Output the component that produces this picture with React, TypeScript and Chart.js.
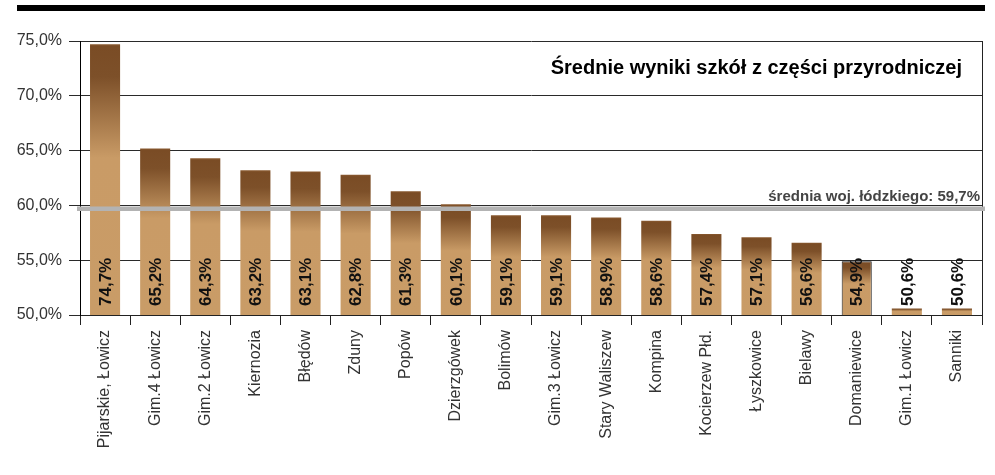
import React, { useEffect, useRef } from "react";
import { Chart, registerables } from "chart.js";

Chart.register(...registerables);

const categories = [
  "Pijarskie, Łowicz",
  "Gim.4 Łowicz",
  "Gim.2 Łowicz",
  "Kiernozia",
  "Błędów",
  "Zduny",
  "Popów",
  "Dzierzgówek",
  "Bolimów",
  "Gim.3 Łowicz",
  "Stary Waliszew",
  "Kompina",
  "Kocierzew Płd.",
  "Łyszkowice",
  "Bielawy",
  "Domaniewice",
  "Gim.1 Łowicz",
  "Sanniki",
];
const values = [74.7, 65.2, 64.3, 63.2, 63.1, 62.8, 61.3, 60.1, 59.1, 59.1, 58.9, 58.6, 57.4, 57.1, 56.6, 54.9, 50.6, 50.6];
const highlighted = ["Domaniewice"];
const averageValue = 59.7;
const averageLabel = "średnia woj. łódzkiego: 59,7%";
const title = "Średnie wyniki szkół z części przyrodniczej";
const yMin = 50;
const yMax = 75;
const yStep = 5;

const FONT = "'Liberation Sans', Arial, Helvetica, sans-serif";
const fmt = (v: number) => v.toFixed(1).replace(".", ",") + "%";

export default function App() {
  const ref = useRef<HTMLCanvasElement | null>(null);

  useEffect(() => {
    const canvas = ref.current;
    if (!canvas) return;

    const decor = {
      id: "decor",
      beforeDraw(chart: any) {
        const ctx = chart.ctx;
        ctx.save();
        ctx.fillStyle = "#000";
        ctx.fillRect(17, 5, 968, 6);
        ctx.restore();
      },
      afterDatasetsDraw(chart: any) {
        const ctx = chart.ctx;
        const area = chart.chartArea;
        const y = chart.scales.y;
        const meta = chart.getDatasetMeta(0);
        ctx.save();
        // right border
        ctx.strokeStyle = "#222";
        ctx.lineWidth = 1;
        ctx.beginPath();
        ctx.moveTo(Math.round(area.right) + 0.5, area.top);
        ctx.lineTo(Math.round(area.right) + 0.5, area.bottom);
        ctx.stroke();
        // average line
        const ay = y.getPixelForValue(averageValue);
        ctx.strokeStyle = "#b3b3b3";
        ctx.lineWidth = 4.5;
        ctx.beginPath();
        ctx.moveTo(area.left - 3, ay);
        ctx.lineTo(area.right + 3, ay);
        ctx.stroke();
        ctx.fillStyle = "#444";
        ctx.font = `bold 15px ${FONT}`;
        ctx.textAlign = "right";
        ctx.textBaseline = "alphabetic";
        ctx.fillText(averageLabel, area.right - 2, ay - 8);
        // title
        ctx.fillStyle = "#000";
        ctx.font = `bold 20px ${FONT}`;
        ctx.textAlign = "right";
        ctx.textBaseline = "middle";
        ctx.fillText(title, 962, 68);
        // value labels
        ctx.fillStyle = "#111";
        ctx.font = `bold 17px ${FONT}`;
        meta.data.forEach((bar: any, i: number) => {
          ctx.save();
          ctx.translate(bar.x, area.bottom - 9);
          ctx.rotate(-Math.PI / 2);
          ctx.textAlign = "left";
          ctx.textBaseline = "middle";
          ctx.fillText(fmt(values[i]), 0, 1);
          ctx.restore();
        });
        ctx.restore();
      },
    };

    const chart = new Chart(canvas, {
      type: "bar",
      data: {
        labels: categories,
        datasets: [
          {
            data: values,
            backgroundColor: (c: any) => {
              const ch = c.chart;
              const ys = ch.scales?.y;
              const area = ch.chartArea;
              if (!ys || !area || c.dataIndex === undefined) return "#c99b66";
              const top = ys.getPixelForValue(values[c.dataIndex]);
              const bottom = area.bottom;
              if (!isFinite(top) || bottom - top < 1) return "#c99b66";
              const g = ch.ctx.createLinearGradient(0, top, 0, bottom);
              g.addColorStop(0, "#8a5a30");
              g.addColorStop(Math.min(0.02, 2 / (bottom - top)), "#7a4c25");
              g.addColorStop(0.12, "#7d5029");
              g.addColorStop(0.42, "#c99b66");
              g.addColorStop(1, "#c99c67");
              return g;
            },
            borderColor: "#1a1a1a",
            borderWidth: categories.map((c) => (highlighted.includes(c) ? 1 : 0)),
            borderSkipped: false,
            barPercentage: 0.6,
            categoryPercentage: 1,
          },
        ],
      },
      options: {
        responsive: false,
        animation: false,
        events: [],
        layout: { padding: { top: 41, right: 13, left: 0, bottom: 0 } },
        plugins: {
          legend: { display: false },
          tooltip: { enabled: false },
          title: { display: false },
        },
        scales: {
          x: {
            offset: true,
            afterFit: (s: any) => {
              s.height = 160;
            },
            grid: {
              offset: true,
              drawOnChartArea: false,
              drawTicks: true,
              tickLength: 10,
              color: "#222",
            },
            border: { display: true, color: "#222" },
            ticks: {
              autoSkip: false,
              maxRotation: 90,
              minRotation: 90,
              padding: 5,
              color: "#333",
              font: { family: FONT, size: 16 },
            },
          },
          y: {
            min: yMin,
            max: yMax,
            afterFit: (s: any) => {
              s.width = 80;
            },
            grid: {
              color: "#2a2a2a",
              tickLength: 11,
              drawTicks: true,
            },
            border: { display: true, color: "#000" },
            ticks: {
              stepSize: yStep,
              padding: 7,
              color: "#333",
              font: { family: FONT, size: 16 },
              callback: (v: any) => fmt(Number(v)),
            },
          },
        },
      },
      plugins: [decor],
    });

    return () => chart.destroy();
  }, []);

  return (
    <div style={{ position: "absolute", left: 0, top: 0, width: 995, height: 475, background: "#fff" }}>
      <canvas ref={ref} width={995} height={475} style={{ display: "block", width: 995, height: 475 }} />
    </div>
  );
}
